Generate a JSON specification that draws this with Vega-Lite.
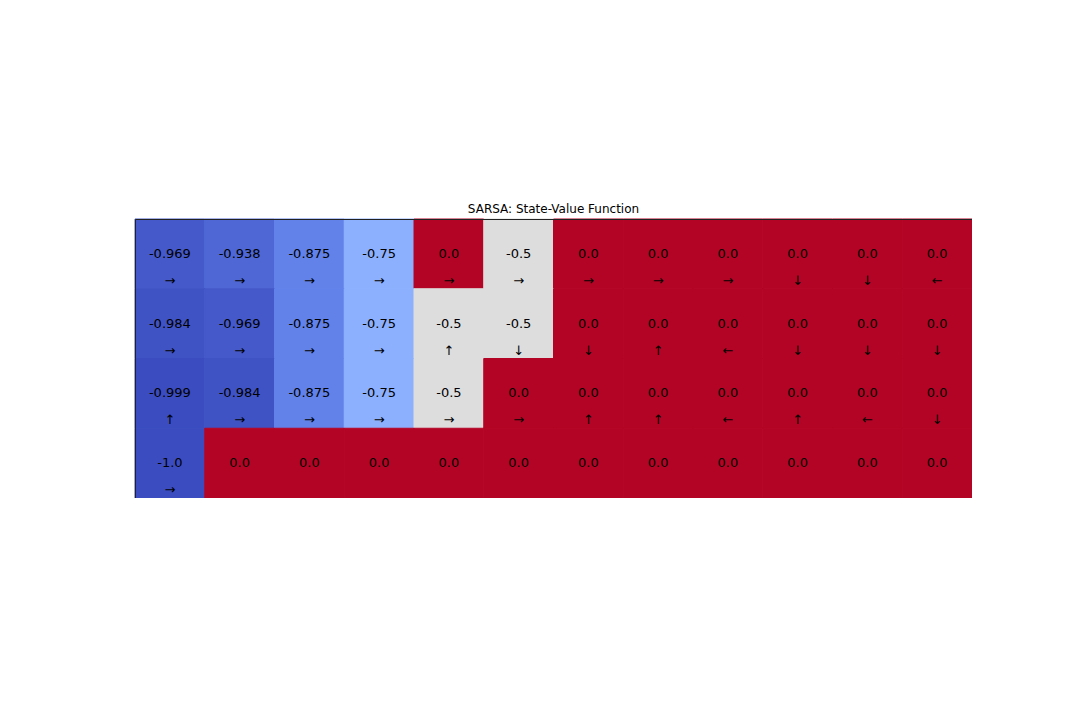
{
  "$schema": "https://vega.github.io/schema/vega-lite/v6.json",
  "autosize": {"type": "none"},
  "padding": {"left": 135, "top": 219, "right": 0, "bottom": 0},
  "width": 837,
  "height": 279,
  "background": "white",
  "title": {"text": "SARSA: State-Value Function", "font": "DejaVu Sans", "fontSize": 12, "fontWeight": "normal", "color": "black", "offset": 3, "anchor": "middle"},
  "config": {
    "view": {"stroke": null},
    "axis": {"labels": false, "ticks": false, "title": null, "domain": true, "domainColor": "#222222", "domainWidth": 1, "grid": false}
  },
  "resolve": {"axis": {"x": "independent", "y": "independent"}},
  "data": {"values": [
    {"row": 0, "col": 0, "value": -0.969, "label": "-0.969", "arrow": "→"},
    {"row": 0, "col": 1, "value": -0.938, "label": "-0.938", "arrow": "→"},
    {"row": 0, "col": 2, "value": -0.875, "label": "-0.875", "arrow": "→"},
    {"row": 0, "col": 3, "value": -0.75, "label": "-0.75", "arrow": "→"},
    {"row": 0, "col": 4, "value": 0.0, "label": "0.0", "arrow": "→"},
    {"row": 0, "col": 5, "value": -0.5, "label": "-0.5", "arrow": "→"},
    {"row": 0, "col": 6, "value": 0.0, "label": "0.0", "arrow": "→"},
    {"row": 0, "col": 7, "value": 0.0, "label": "0.0", "arrow": "→"},
    {"row": 0, "col": 8, "value": 0.0, "label": "0.0", "arrow": "→"},
    {"row": 0, "col": 9, "value": 0.0, "label": "0.0", "arrow": "↓"},
    {"row": 0, "col": 10, "value": 0.0, "label": "0.0", "arrow": "↓"},
    {"row": 0, "col": 11, "value": 0.0, "label": "0.0", "arrow": "←"},
    {"row": 1, "col": 0, "value": -0.984, "label": "-0.984", "arrow": "→"},
    {"row": 1, "col": 1, "value": -0.969, "label": "-0.969", "arrow": "→"},
    {"row": 1, "col": 2, "value": -0.875, "label": "-0.875", "arrow": "→"},
    {"row": 1, "col": 3, "value": -0.75, "label": "-0.75", "arrow": "→"},
    {"row": 1, "col": 4, "value": -0.5, "label": "-0.5", "arrow": "↑"},
    {"row": 1, "col": 5, "value": -0.5, "label": "-0.5", "arrow": "↓"},
    {"row": 1, "col": 6, "value": 0.0, "label": "0.0", "arrow": "↓"},
    {"row": 1, "col": 7, "value": 0.0, "label": "0.0", "arrow": "↑"},
    {"row": 1, "col": 8, "value": 0.0, "label": "0.0", "arrow": "←"},
    {"row": 1, "col": 9, "value": 0.0, "label": "0.0", "arrow": "↓"},
    {"row": 1, "col": 10, "value": 0.0, "label": "0.0", "arrow": "↓"},
    {"row": 1, "col": 11, "value": 0.0, "label": "0.0", "arrow": "↓"},
    {"row": 2, "col": 0, "value": -0.999, "label": "-0.999", "arrow": "↑"},
    {"row": 2, "col": 1, "value": -0.984, "label": "-0.984", "arrow": "→"},
    {"row": 2, "col": 2, "value": -0.875, "label": "-0.875", "arrow": "→"},
    {"row": 2, "col": 3, "value": -0.75, "label": "-0.75", "arrow": "→"},
    {"row": 2, "col": 4, "value": -0.5, "label": "-0.5", "arrow": "→"},
    {"row": 2, "col": 5, "value": 0.0, "label": "0.0", "arrow": "→"},
    {"row": 2, "col": 6, "value": 0.0, "label": "0.0", "arrow": "↑"},
    {"row": 2, "col": 7, "value": 0.0, "label": "0.0", "arrow": "↑"},
    {"row": 2, "col": 8, "value": 0.0, "label": "0.0", "arrow": "←"},
    {"row": 2, "col": 9, "value": 0.0, "label": "0.0", "arrow": "↑"},
    {"row": 2, "col": 10, "value": 0.0, "label": "0.0", "arrow": "←"},
    {"row": 2, "col": 11, "value": 0.0, "label": "0.0", "arrow": "↓"},
    {"row": 3, "col": 0, "value": -1.0, "label": "-1.0", "arrow": "→"},
    {"row": 3, "col": 1, "value": 0.0, "label": "0.0", "arrow": ""},
    {"row": 3, "col": 2, "value": 0.0, "label": "0.0", "arrow": ""},
    {"row": 3, "col": 3, "value": 0.0, "label": "0.0", "arrow": ""},
    {"row": 3, "col": 4, "value": 0.0, "label": "0.0", "arrow": ""},
    {"row": 3, "col": 5, "value": 0.0, "label": "0.0", "arrow": ""},
    {"row": 3, "col": 6, "value": 0.0, "label": "0.0", "arrow": ""},
    {"row": 3, "col": 7, "value": 0.0, "label": "0.0", "arrow": ""},
    {"row": 3, "col": 8, "value": 0.0, "label": "0.0", "arrow": ""},
    {"row": 3, "col": 9, "value": 0.0, "label": "0.0", "arrow": ""},
    {"row": 3, "col": 10, "value": 0.0, "label": "0.0", "arrow": ""},
    {"row": 3, "col": 11, "value": 0.0, "label": "0.0", "arrow": ""}
  ]},
  "layer": [
    {
      "mark": {"type": "rect", "strokeWidth": 1},
      "encoding": {
        "x": {"field": "col", "type": "ordinal", "axis": {"orient": "bottom", "zindex": 2}, "scale": {"paddingInner": 0, "paddingOuter": 0}},
        "y": {"field": "row", "type": "ordinal", "axis": {"orient": "left", "zindex": 2}, "scale": {"paddingInner": 0, "paddingOuter": 0}},
        "fill": {
          "field": "value", "type": "quantitative", "legend": null,
          "scale": {
            "domain": [-1, -0.875, -0.75, -0.625, -0.5, -0.375, -0.25, -0.125, 0],
            "range": ["#3b4cc0", "#6282ea", "#8db0fe", "#b8d0f9", "#dddddd", "#f5c4ad", "#f49a7b", "#de604d", "#b40426"],
            "interpolate": "rgb"
          }
        },
        "stroke": {
          "field": "value", "type": "quantitative", "legend": null,
          "scale": {
            "domain": [-1, -0.875, -0.75, -0.625, -0.5, -0.375, -0.25, -0.125, 0],
            "range": ["#3b4cc0", "#6282ea", "#8db0fe", "#b8d0f9", "#dddddd", "#f5c4ad", "#f49a7b", "#de604d", "#b40426"],
            "interpolate": "rgb"
          }
        }
      }
    },
    {
      "mark": {"type": "text", "font": "DejaVu Sans", "fontSize": 13, "baseline": "middle", "align": "center", "color": "black"},
      "encoding": {
        "x": {"field": "col", "type": "ordinal", "axis": {"orient": "top", "zindex": 2}},
        "y": {"field": "row", "type": "ordinal", "axis": {"orient": "right", "zindex": 2}},
        "text": {"field": "label", "type": "nominal"}
      }
    },
    {
      "mark": {"type": "text", "font": "DejaVu Sans", "fontSize": 13, "baseline": "middle", "align": "center", "color": "black", "yOffset": 27},
      "encoding": {
        "x": {"field": "col", "type": "ordinal", "axis": null},
        "y": {"field": "row", "type": "ordinal", "axis": null},
        "text": {"field": "arrow", "type": "nominal"}
      }
    }
  ]
}
